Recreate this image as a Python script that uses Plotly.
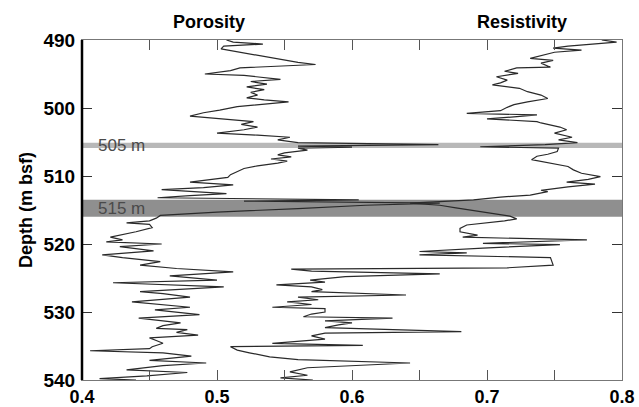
import plotly.graph_objects as go

# Porosity log (depth m bsf, value)
por_depth = [490.0, 490.3, 490.6, 490.9, 491.3, 491.7, 492.2, 492.8, 493.3, 493.6, 493.9, 494.1, 494.5, 495.0,
             495.2, 495.5, 495.8, 496.1, 496.5, 496.9, 497.3, 497.7, 498.1, 498.5, 498.8, 499.1, 499.4, 499.8,
             500.3, 500.7, 501.2, 501.6, 502.0, 502.4, 502.8, 503.2, 503.7, 504.0, 504.3, 504.7, 505.1, 505.4,
             505.6, 505.75, 505.9, 506.2, 506.6, 506.9, 507.2, 507.5, 507.8, 508.1, 508.5, 508.9, 509.4, 509.8,
             510.2, 510.6, 510.9, 511.3, 511.7, 512.0, 512.3, 512.6, 512.9, 513.2, 513.5, 513.7, 514.0, 514.3,
             514.8, 515.3, 515.8, 516.2, 516.6, 516.9, 517.1, 517.6, 518.2, 518.6, 519.0, 519.4, 519.7, 520.0,
             520.4, 521.0, 521.6, 522.0, 522.6, 523.1, 523.6, 524.1, 524.7, 525.3, 525.7, 526.3, 527.0, 527.3,
             527.8, 528.5, 528.9, 529.3, 529.7, 530.4, 530.9, 531.3, 531.6, 532.0, 532.4, 532.6, 533.0, 533.4,
             533.8, 534.2, 534.6, 535.1, 535.4, 535.7, 536.0, 536.5, 537.1, 537.5, 537.9, 538.5, 538.9, 539.4,
             539.8, 540.0]
por_value = [0.507, 0.512, 0.534, 0.505, 0.503, 0.515, 0.530, 0.545, 0.560, 0.573, 0.545, 0.517, 0.510, 0.491,
             0.520, 0.532, 0.547, 0.525, 0.537, 0.522, 0.535, 0.525, 0.530, 0.522, 0.535, 0.553, 0.535, 0.515,
             0.502, 0.490, 0.480, 0.505, 0.527, 0.518, 0.530, 0.520, 0.500, 0.530, 0.554, 0.545, 0.560, 0.664,
             0.560, 0.600, 0.560, 0.567, 0.550, 0.545, 0.555, 0.540, 0.552, 0.545, 0.530, 0.520, 0.515, 0.510,
             0.508, 0.490, 0.480, 0.512, 0.490, 0.459, 0.480, 0.507, 0.480, 0.456, 0.605, 0.520, 0.665, 0.610,
             0.560, 0.500, 0.458, 0.455, 0.450, 0.433, 0.450, 0.452, 0.440, 0.430, 0.421, 0.430, 0.418, 0.459,
             0.428, 0.453, 0.415, 0.430, 0.458, 0.443, 0.470, 0.512, 0.465, 0.500, 0.423, 0.505, 0.443, 0.460,
             0.480, 0.437, 0.460, 0.480, 0.454, 0.487, 0.442, 0.460, 0.473, 0.460, 0.455, 0.478, 0.470, 0.486,
             0.450, 0.455, 0.460, 0.452, 0.450, 0.406, 0.460, 0.481, 0.450, 0.492, 0.460, 0.433, 0.478, 0.448,
             0.413, 0.440]

# Resistivity log (depth m bsf, value on same axis)
res_depth = [490.0, 490.3, 490.6, 490.9, 491.2, 491.5, 491.8, 492.3, 492.7, 493.0, 493.4, 494.0, 494.1, 494.6,
             494.9, 495.4, 495.9, 496.3, 496.6, 497.1, 497.6, 498.1, 498.6, 499.1, 499.5, 499.9, 500.4, 500.8,
             501.0, 501.3, 501.6, 502.0, 502.2, 502.8, 503.2, 503.7, 504.3, 504.7, 505.1, 505.4, 505.7, 505.9,
             506.4, 506.8, 507.1, 507.6, 508.1, 508.6, 509.1, 509.6, 510.1, 510.5, 510.9, 511.2, 511.6, 512.1,
             512.3, 512.8, 513.1, 513.5, 514.0, 514.3, 514.7, 515.4, 515.9, 516.3, 516.6, 517.2, 517.7, 518.2,
             518.7, 519.0, 519.4, 519.9, 520.1, 520.6, 521.1, 521.3, 521.6, 522.0, 522.6, 523.1, 523.5, 523.7,
             524.0, 524.4, 524.8, 525.3, 525.6, 526.0, 526.3, 526.7, 527.0, 527.5, 527.8, 528.2, 528.5, 528.9,
             529.3, 529.5, 530.0, 530.3, 530.7, 530.9, 531.3, 531.6, 531.9, 532.3, 532.9, 533.1, 533.5, 534.0,
             534.6, 534.9, 535.1, 535.6, 536.0, 536.6, 537.0, 537.5, 538.2, 538.8, 539.3, 539.7, 540.0]
res_value = [0.785, 0.796, 0.778, 0.760, 0.749, 0.770, 0.750, 0.740, 0.732, 0.749, 0.740, 0.747, 0.722, 0.713,
             0.723, 0.707, 0.715, 0.710, 0.704, 0.724, 0.730, 0.740, 0.745, 0.730, 0.720, 0.715, 0.710, 0.685,
             0.737, 0.720, 0.700, 0.737, 0.740, 0.754, 0.759, 0.750, 0.763, 0.753, 0.767, 0.743, 0.695, 0.753,
             0.752, 0.745, 0.737, 0.733, 0.747, 0.760, 0.764, 0.770, 0.784, 0.775, 0.759, 0.780, 0.760, 0.740,
             0.745, 0.732, 0.710, 0.690, 0.643, 0.665, 0.677, 0.702, 0.717, 0.722, 0.713, 0.685, 0.680, 0.680,
             0.693, 0.682, 0.774, 0.697, 0.754, 0.697, 0.650, 0.685, 0.650, 0.747, 0.748, 0.749, 0.715, 0.555,
             0.570, 0.665, 0.595, 0.569, 0.580, 0.544, 0.570, 0.578, 0.570, 0.640, 0.560, 0.575, 0.552, 0.570,
             0.541, 0.580, 0.580, 0.570, 0.564, 0.630, 0.580, 0.600, 0.590, 0.580, 0.681, 0.580, 0.570, 0.580,
             0.541, 0.608, 0.510, 0.515, 0.524, 0.539, 0.560, 0.643, 0.567, 0.554, 0.567, 0.547, 0.571]

# Highlighted depth intervals
band_top = [505.1, 513.5]
band_bottom = [505.9, 516.0]
band_color = ["#b8b8b8", "#8f8f8f"]
band_label = ["505 m", "515 m"]

x_ticks = [0.40, 0.45, 0.50, 0.55, 0.60, 0.65, 0.70, 0.75, 0.80]
x_ticktext = ["<b>0.4</b>", "", "<b>0.5</b>", "", "<b>0.6</b>", "", "<b>0.7</b>", "", "<b>0.8</b>"]
y_ticks = [490, 500, 510, 520, 530, 540]
y_ticktext = ["<b>%d</b>" % v for v in y_ticks]

fig = go.Figure()
fig.add_trace(go.Scatter(x=por_value, y=por_depth, mode="lines",
                         line=dict(color="#2a2a2a", width=1.2), showlegend=False))
fig.add_trace(go.Scatter(x=res_value, y=res_depth, mode="lines",
                         line=dict(color="#2a2a2a", width=1.2), showlegend=False))

for t, b, c, lab in zip(band_top, band_bottom, band_color, band_label):
    fig.add_shape(type="rect", xref="paper", x0=0, x1=1, y0=t, y1=b, yref="y",
                  fillcolor=c, line=dict(width=0), layer="below")
    fig.add_annotation(x=0.4105, y=(t + b) / 2, text=lab, showarrow=False, xanchor="left",
                       yanchor="middle", font=dict(size=17, color="#4a4a4a", family="Liberation Sans"))

# thick left axis line
fig.add_shape(type="line", xref="paper", yref="paper", x0=0, x1=0, y0=0, y1=1,
              line=dict(color="black", width=2.5))

fig.add_annotation(xref="x", yref="paper", x=0.494, y=1.0, yshift=18, yanchor="middle",
                   text="<b>Porosity</b>", showarrow=False, font=dict(size=18, color="black"))
fig.add_annotation(xref="x", yref="paper", x=0.726, y=1.0, yshift=18, yanchor="middle",
                   text="<b>Resistivity</b>", showarrow=False, font=dict(size=18, color="black"))

fig.update_layout(
    width=639, height=407,
    margin=dict(l=82, r=17, t=40, b=27),
    paper_bgcolor="white", plot_bgcolor="white",
    font=dict(family="Liberation Sans", color="black", size=18),
    xaxis=dict(range=[0.4, 0.8], tickvals=x_ticks, ticktext=x_ticktext, ticks="inside", ticklen=10,
               tickcolor="#555", showline=True, linecolor="#777", linewidth=1, mirror="ticks",
               showgrid=False, zeroline=False, tickfont=dict(size=18), ticklabelstandoff=0,
               automargin=False),
    yaxis=dict(range=[540, 490], tickvals=y_ticks, ticktext=y_ticktext, ticks="inside", ticklen=10,
               tickcolor="#333", showline=True, linecolor="#777", linewidth=1, mirror="ticks",
               showgrid=False, zeroline=False, tickfont=dict(size=19), ticklabelstandoff=2,
               automargin=False,
               title=dict(text="<b>Depth (m bsf)</b>", font=dict(size=18), standoff=6)),
)

fig.write_html("out.html")
